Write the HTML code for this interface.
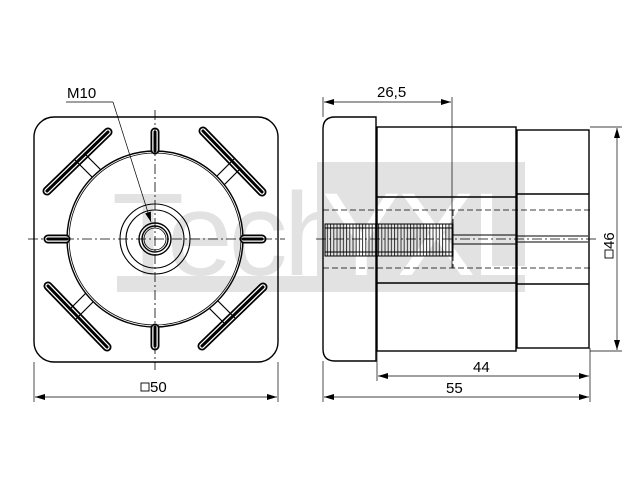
<!DOCTYPE html>
<html><head><meta charset="utf-8"><style>html,body{margin:0;padding:0;background:#fff}svg{display:block}</style></head>
<body>
<svg width="640" height="480" viewBox="0 0 640 480" xmlns="http://www.w3.org/2000/svg" font-family="Liberation Sans, sans-serif">
<defs>
<pattern id="th" x="0" y="0" width="3.2" height="10" patternUnits="userSpaceOnUse">
<line x1="1" y1="0" x2="1" y2="10" stroke="#222" stroke-width="0.9"/>
</pattern>
<marker id="a" viewBox="0 0 10 6" refX="10" refY="3" markerWidth="10" markerHeight="6" orient="auto-start-reverse" markerUnits="userSpaceOnUse"><path d="M0,0 L10,3 L0,6 z" fill="#000"/></marker>
</defs>
<g fill="#e2e2e2">
<rect x="317" y="162" width="208" height="130"/>
<rect x="117" y="276" width="200" height="16"/>
<text x="112" y="275" font-size="118" letter-spacing="-4">Tech</text>
<text x="322" y="275" font-size="118" fill="#fff" letter-spacing="-4">YXL</text>
</g>

<g fill="none" stroke="#000" stroke-width="1.4">
<rect x="34" y="117" width="244" height="245" rx="20"/>
<circle cx="155" cy="239" r="88"/>
<circle cx="155" cy="239" r="86" stroke-width="0.8"/>
<circle cx="155" cy="239" r="35" stroke-width="1.1"/>
<circle cx="155" cy="239" r="29" stroke-width="1.1"/>
<circle cx="155" cy="239" r="16"/>
<circle cx="155" cy="239" r="13"/>
<circle cx="155" cy="239" r="11" stroke-width="0.8"/>
</g>
<g id="q" fill="none" stroke="#000">
<line x1="47" y1="191" x2="108" y2="132" stroke-width="9" stroke-linecap="round"/>
<line x1="47" y1="191" x2="108" y2="132" stroke="#fff" stroke-width="5.5" stroke-linecap="round"/>
<line x1="47" y1="191" x2="108" y2="132" stroke-width="3" stroke-linecap="round"/>
<path d="M75,160 L92,177 M84,153 L101,170" stroke-width="1.2"/>
<line x1="155" y1="132" x2="155" y2="150" stroke-width="9" stroke-linecap="round"/>
<line x1="155" y1="132" x2="155" y2="150" stroke="#fff" stroke-width="5.5" stroke-linecap="round"/>
<line x1="155" y1="132" x2="155" y2="151" stroke-width="3" stroke-linecap="round"/>
</g>
<use href="#q" transform="rotate(90 155 239)"/>
<use href="#q" transform="rotate(180 155 239)"/>
<use href="#q" transform="rotate(270 155 239)"/>
<g stroke="#000" stroke-width="0.8" stroke-dasharray="10,3,2,3" fill="none">
<line x1="155" y1="110" x2="155" y2="370"/>
<line x1="28" y1="239" x2="285" y2="239"/>
</g>
<g stroke="#000" stroke-width="0.7" fill="none">
<line x1="66" y1="102" x2="113" y2="102"/>
<line x1="113" y1="102" x2="151" y2="222" marker-end="url(#a)"/>
</g>
<text x="67" y="98" font-size="15">M10</text>
<g stroke="#000" stroke-width="0.7">
<line x1="34" y1="362" x2="34" y2="402"/>
<line x1="278" y1="362" x2="278" y2="402"/>
<line x1="35" y1="397" x2="277" y2="397" marker-start="url(#a)" marker-end="url(#a)"/>
</g>
<rect x="141" y="383" width="8" height="8" fill="none" stroke="#000" stroke-width="0.9"/>
<text x="150" y="392" font-size="15">50</text>

<g fill="none" stroke="#000" stroke-width="1.4">
<path d="M376,117 L335,117 Q323,117 323,129 L323,349 Q323,361 335,361 L376,361 Z"/>
<rect x="377" y="127" width="139" height="224"/>
<rect x="517" y="130" width="72" height="218"/>
<line x1="377" y1="197" x2="516" y2="197"/>
<line x1="377" y1="283" x2="516" y2="283"/>
<line x1="517" y1="194" x2="589" y2="194"/>
<line x1="517" y1="284" x2="589" y2="284"/>
</g>
<g stroke="#000" stroke-width="0.8" stroke-dasharray="6,3" fill="none">
<line x1="323" y1="210" x2="590" y2="210"/>
<line x1="323" y1="268" x2="590" y2="268"/>
<line x1="453" y1="210" x2="453" y2="268"/>
</g>
<rect x="325" y="224" width="128" height="32" fill="url(#th)" stroke="#000" stroke-width="1"/>
<g stroke="#000" stroke-width="1" fill="none">
<line x1="325" y1="228" x2="453" y2="228"/>
<line x1="325" y1="252" x2="453" y2="252"/>
<line x1="453" y1="235" x2="516" y2="235"/>
<line x1="453" y1="244" x2="516" y2="244"/>
<line x1="516" y1="236" x2="588" y2="236"/>
<line x1="516" y1="242" x2="588" y2="242"/>
</g>
<line x1="316" y1="239" x2="596" y2="239" stroke="#000" stroke-width="0.8" stroke-dasharray="10,3,2,3"/>
<g stroke="#000" stroke-width="0.7">
<line x1="323" y1="97" x2="323" y2="117"/>
<line x1="452" y1="97" x2="452" y2="268"/>
<line x1="324" y1="102" x2="451" y2="102" marker-start="url(#a)" marker-end="url(#a)"/>
<line x1="590" y1="127" x2="622" y2="127"/>
<line x1="590" y1="351" x2="622" y2="351"/>
<line x1="617" y1="128" x2="617" y2="350" marker-start="url(#a)" marker-end="url(#a)"/>
<line x1="377" y1="351" x2="377" y2="381"/>
<line x1="590" y1="348" x2="590" y2="402"/>
<line x1="378" y1="376" x2="589" y2="376" marker-start="url(#a)" marker-end="url(#a)"/>
<line x1="323" y1="361" x2="323" y2="402"/>
<line x1="324" y1="397" x2="589" y2="397" marker-start="url(#a)" marker-end="url(#a)"/>
</g>
<text x="377" y="97" font-size="15">26,5</text>
<text x="473" y="372" font-size="15">44</text>
<text x="446" y="393" font-size="15">55</text>
<g transform="translate(614,239) rotate(-90)">
<rect x="-19" y="-9" width="8" height="8" fill="none" stroke="#000" stroke-width="0.9"/>
<text x="-10" y="0" font-size="15">46</text>
</g>
</svg>
</body></html>
